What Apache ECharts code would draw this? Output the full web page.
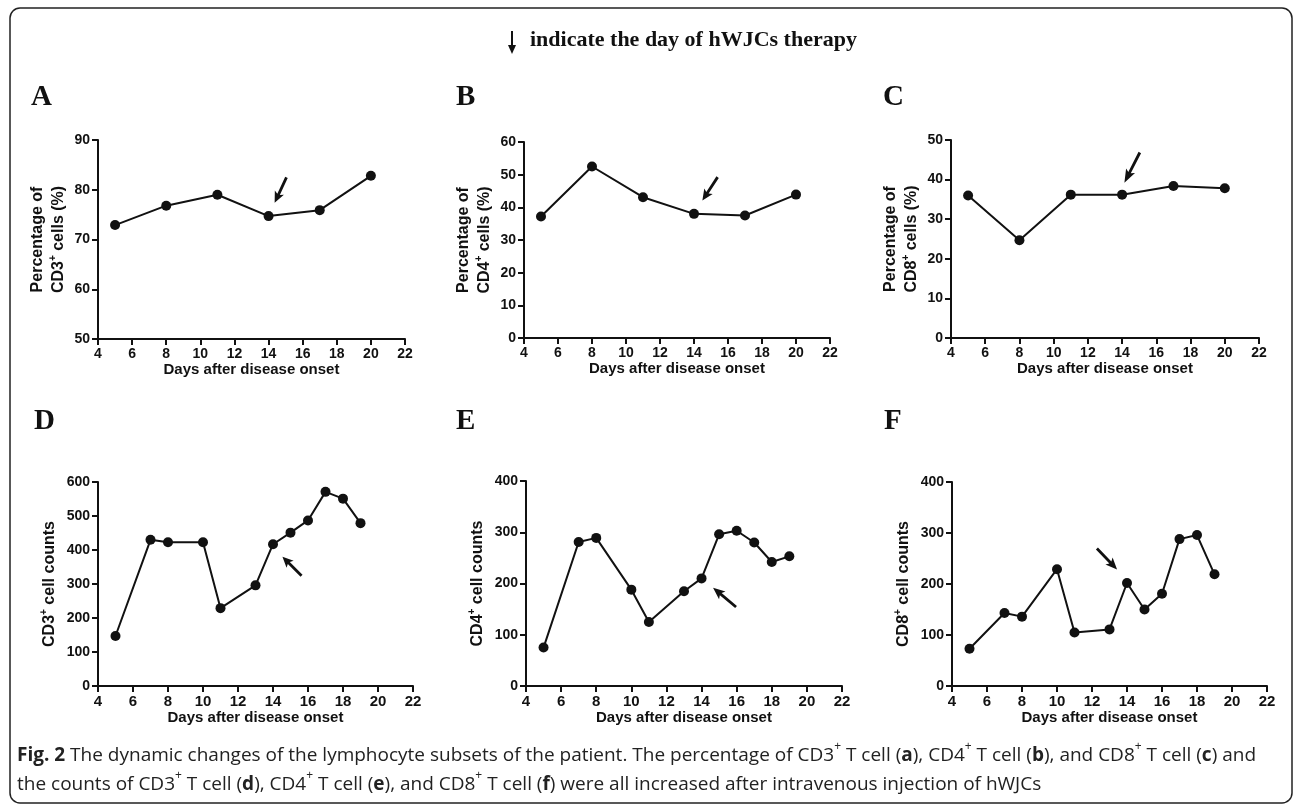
<!DOCTYPE html>
<html>
<head>
<meta charset="utf-8">
<script src="https://cdn.jsdelivr.net/npm/echarts@6/dist/echarts.min.js"></script>
<style>
  html, body { margin: 0; padding: 0; background: #fff; }
  #chart { width: 1295px; height: 806px; }
</style>
</head>
<body>
<div id="chart"></div>
<script>
// datos
const pctDays = [5, 8, 11, 14, 17, 20];
const pctCD3 = [72.9, 76.8, 79.0, 74.7, 75.9, 82.8];
const pctCD4 = [37.2, 52.5, 43.1, 38.0, 37.5, 43.9];
const pctCD8 = [36.0, 24.7, 36.2, 36.2, 38.4, 37.8];

const countDays = [5, 7, 8, 10, 11, 13, 14, 15, 16, 17, 18, 19];
const countCD3 = [147, 430, 423, 423, 229, 296, 417, 451, 487, 571, 551, 479];
const countCD4 = [75, 281, 289, 188, 125, 185, 210, 296, 303, 280, 242, 253];
const countCD8 = [73, 143, 136, 229, 105, 111, 202, 150, 181, 288, 296, 219];

const therapyDay = 14;
const panelLetters = ['A', 'B', 'C', 'D', 'E', 'F'];
const yRanges = [[50, 90, 10], [0, 60, 10], [0, 50, 10], [0, 600, 100], [0, 400, 100], [0, 400, 100]];
const yNames = [
  'Percentage of\nCD3{s|+} cells (%)',
  'Percentage of\nCD4{s|+} cells (%)',
  'Percentage of\nCD8{s|+} cells (%)',
  'CD3{s|+} cell counts',
  'CD4{s|+} cell counts',
  'CD8{s|+} cell counts'
];

const sans = 'Liberation Sans';
const serif = 'Liberation Serif';
const ink = '#111';

// grids (px)
const grids = [
  { left: 98, top: 140, width: 307, height: 199 },
  { left: 524, top: 142, width: 306, height: 196 },
  { left: 951, top: 140, width: 308, height: 198 },
  { left: 98, top: 482, width: 315, height: 204 },
  { left: 526, top: 481, width: 316, height: 205 },
  { left: 952, top: 482, width: 315, height: 204 }
];

// flecha apuntando hacia arriba, se rota por panel
const arrowPath = 'path://M5,0 L10,12 L6.4,10 L6.4,30 L3.6,30 L3.6,10 L0,12 Z';
const arrows = [
  { rot: 155, len: 28, off: [12, -26] },
  { rot: 147, len: 28, off: [16, -25] },
  { rot: 153, len: 34, off: [10, -27] },
  { rot: 45, len: 27, off: [19, 22] },
  { rot: 50, len: 30, off: [23, 19] },
  { rot: 224, len: 29, off: [-20, -24] }
];

const seriesDays = [pctDays, pctDays, pctDays, countDays, countDays, countDays];
const seriesVals = [pctCD3, pctCD4, pctCD8, countCD3, countCD4, countCD8];

const axisCommon = {
  axisLine: { show: true, lineStyle: { color: ink, width: 2 } },
  axisTick: { show: true, length: 6, lineStyle: { color: ink, width: 2 } },
  splitLine: { show: false },
  axisLabel: { color: ink, fontFamily: sans, fontWeight: 'bold', fontSize: 14 }
};

const xAxis = grids.map((g, i) => ({
  type: 'value', gridIndex: i, min: 4, max: 22, interval: 2,
  ...axisCommon,
  axisLabel: { ...axisCommon.axisLabel, margin: 8, fontSize: i < 3 ? 14 : 15 },
  name: 'Days after disease onset',
  nameLocation: 'middle',
  nameGap: 22,
  nameTextStyle: { color: ink, fontFamily: sans, fontWeight: 'bold', fontSize: 15 }
}));

const yAxis = grids.map((g, i) => ({
  type: 'value', gridIndex: i,
  min: yRanges[i][0], max: yRanges[i][1], interval: yRanges[i][2],
  ...axisCommon,
  axisLabel: { ...axisCommon.axisLabel, margin: 8 },
  name: yNames[i],
  nameLocation: 'middle',
  nameGap: i < 3 ? 29 : 38,
  nameTextStyle: {
    color: ink, fontFamily: sans, fontWeight: 'bold', fontSize: 16, lineHeight: 21,
    rich: { s: { fontSize: 10, fontWeight: 'bold', fontFamily: sans, verticalAlign: 'top', lineHeight: 21 } }
  }
}));

const series = grids.map((g, i) => {
  const days = seriesDays[i];
  const vals = seriesVals[i];
  const k = days.indexOf(therapyDay);
  return {
    type: 'line',
    xAxisIndex: i, yAxisIndex: i,
    data: days.map((d, j) => [d, vals[j]]),
    symbol: 'circle', symbolSize: 10,
    lineStyle: { color: ink, width: 2 },
    itemStyle: { color: ink },
    markPoint: {
      symbol: arrowPath,
      symbolSize: [10, arrows[i].len],
      symbolRotate: arrows[i].rot,
      symbolOffset: arrows[i].off,
      itemStyle: { color: ink },
      label: { show: false },
      data: [{ coord: [therapyDay, vals[k]] }]
    }
  };
});

const letterPos = [[31, 83], [456, 83], [883, 83], [34, 407], [456, 407], [884, 407]];
const title = panelLetters.map((l, i) => ({
  text: l, left: letterPos[i][0], top: letterPos[i][1], padding: 0,
  textStyle: { fontFamily: serif, fontWeight: 'bold', fontSize: 29, color: ink }
}));

const captionText =
  '{b|Fig. 2} The dynamic changes of the lymphocyte subsets of the patient. The percentage of CD3{s|+} T cell ({b|a}), CD4{s|+} T cell ({b|b}), and CD8{s|+} T cell ({b|c}) and\n' +
  'the counts of CD3{s|+} T cell ({b|d}), CD4{s|+} T cell ({b|e}), and CD8{s|+} T cell ({b|f}) were all increased after intravenous injection of hWJCs';

const chart = echarts.init(document.getElementById('chart'));
chart.setOption({
  animation: false,
  backgroundColor: '#fff',
  title,
  grid: grids,
  xAxis,
  yAxis,
  series,
  graphic: [
    {
      type: 'rect', silent: true,
      shape: { x: 10, y: 8, width: 1282, height: 795, r: 10 },
      style: { fill: 'none', stroke: '#222', lineWidth: 1.5 }
    },
    {
      type: 'line', silent: true,
      shape: { x1: 512, y1: 31, x2: 512, y2: 47 },
      style: { stroke: ink, lineWidth: 2 }
    },
    {
      type: 'polygon', silent: true,
      shape: { points: [[508, 45], [516, 45], [512, 54]] },
      style: { fill: ink }
    },
    {
      type: 'text', left: 530, top: 29, silent: true,
      style: { text: 'indicate the day of hWJCs therapy', font: 'bold 22px "Liberation Serif"', fill: ink }
    },
    {
      type: 'text', left: 17, top: 741, silent: true,
      style: {
        text: captionText,
        fontFamily: 'Open Sans', fontSize: 19, lineHeight: 29, fill: '#222',
        rich: {
          b: { fontFamily: 'Open Sans', fontSize: 19, fontWeight: 'bold', lineHeight: 29 },
          s: { fontFamily: 'Open Sans', fontSize: 12, verticalAlign: 'top', lineHeight: 22 }
        }
      }
    }
  ]
});
</script>
</body>
</html>
